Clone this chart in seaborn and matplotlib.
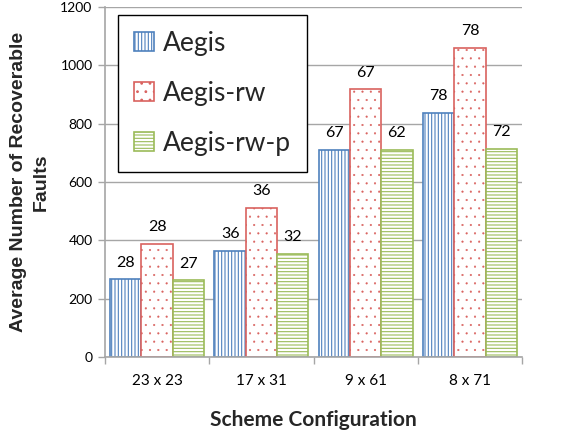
import matplotlib
matplotlib.use("Agg")
import matplotlib.pyplot as plt
from matplotlib.patches import Patch
import pandas as pd
import seaborn as sns

# Scheme configurations and series
configs = ["23 x 23", "17 x 31", "9 x 61", "8 x 71"]
schemes = ["Aegis", "Aegis-rw", "Aegis-rw-p"]

aegis = [266, 365, 711, 836]
aegis_rw = [388, 511, 918, 1059]
aegis_rw_p = [263, 353, 711, 714]

# Numbers printed above each bar
aegis_lbl = [28, 36, 67, 78]
aegis_rw_lbl = [28, 36, 67, 78]
aegis_rw_p_lbl = [27, 32, 62, 72]

y_ticks = [0, 200, 400, 600, 800, 1000, 1200]

df = pd.DataFrame({
    "config": configs * 3,
    "scheme": [s for s in schemes for _ in configs],
    "faults": aegis + aegis_rw + aegis_rw_p,
})

sns.set_theme(style="white")
plt.rcParams["font.family"] = ["Lato", "DejaVu Sans"]
plt.rcParams["hatch.linewidth"] = 0.8

colors = {"Aegis": "#4F81BD", "Aegis-rw": "#D9625F", "Aegis-rw-p": "#9BBB59"}
hatch_colors = {"Aegis": "#4F81BD", "Aegis-rw": "#C00000", "Aegis-rw-p": "#9BBB59"}
hatches = {"Aegis": "|||||", "Aegis-rw": "..", "Aegis-rw-p": "-----"}
grid_gray = "#A6A6A6"

fig = plt.figure(figsize=(5.66, 4.32), dpi=100)
ax = fig.add_axes([105 / 566, 1 - 357 / 432, 417 / 566, 350 / 432])

sns.barplot(data=df, x="config", y="faults", hue="scheme", order=configs,
            hue_order=schemes, palette=colors, fill=False, width=0.9, gap=0,
            linewidth=1.2, errorbar=None, legend=False, ax=ax)


def style_patch(p, s):
    p.set_facecolor("white")
    p.set_edgecolor(colors[s])
    p.set_hatch(hatches[s])
    if hasattr(p, "set_hatchcolor"):
        p.set_hatchcolor(hatch_colors[s])
    if s == "Aegis-rw" and hasattr(p, "set_hatch_linewidth"):
        p.set_hatch_linewidth(0.3)


label_lists = [aegis_lbl, aegis_rw_lbl, aegis_rw_p_lbl]
for cont, s, lbls in zip(ax.containers, schemes, label_lists):
    for p in cont:
        style_patch(p, s)
        p.set_zorder(2)
    ax.bar_label(cont, labels=[str(v) for v in lbls], padding=7,
                 fontsize=11.5, color="black")

ax.set_axisbelow(True)
ax.set_ylim(0, 1200)
ax.set_yticks(y_ticks)
ax.yaxis.grid(True, color=grid_gray, linewidth=1)
ax.set_xlim(-0.5, 3.5)
ax.set_xticks([-0.5, 0.5, 1.5, 2.5, 3.5], minor=True)

ax.tick_params(axis="y", left=True, length=5, width=1, color=grid_gray,
               labelsize=10, pad=4, labelcolor="black")
ax.tick_params(axis="x", which="minor", bottom=True, length=5, width=1,
               color=grid_gray)
ax.tick_params(axis="x", which="major", bottom=False, length=0, pad=12,
               labelsize=11, labelcolor="black")

for side in ["top", "right"]:
    ax.spines[side].set_visible(False)
for side in ["left", "bottom"]:
    ax.spines[side].set_color(grid_gray)
    ax.spines[side].set_linewidth(1.2)

ax.set_ylabel("Average Number of Recoverable\nFaults", fontsize=14,
              fontweight="bold", linespacing=1.45, va="center",
              family=["Liberation Sans", "DejaVu Sans"])
ax.yaxis.set_label_coords(-0.181, 0.5)
ax.set_xlabel("Scheme Configuration", fontsize=15, fontweight="bold",
              va="center")
ax.xaxis.set_label_coords(0.5, -0.18)

handles = []
for s in schemes:
    h = Patch(facecolor="white", edgecolor=colors[s], hatch=hatches[s],
              linewidth=1.2, label=s)
    style_patch(h, s)
    handles.append(h)
leg = ax.legend(handles=handles, loc="upper left",
                bbox_to_anchor=(13 / 417, 1 - 8 / 350), borderaxespad=0,
                fontsize=19, frameon=True, fancybox=False, framealpha=1,
                edgecolor="black", handlelength=0.75, handleheight=0.75,
                handletextpad=0.35, labelspacing=0.95, borderpad=0.6)
leg.get_frame().set_linewidth(1)
leg.set_zorder(5)

fig.savefig("out.png", dpi=100)
